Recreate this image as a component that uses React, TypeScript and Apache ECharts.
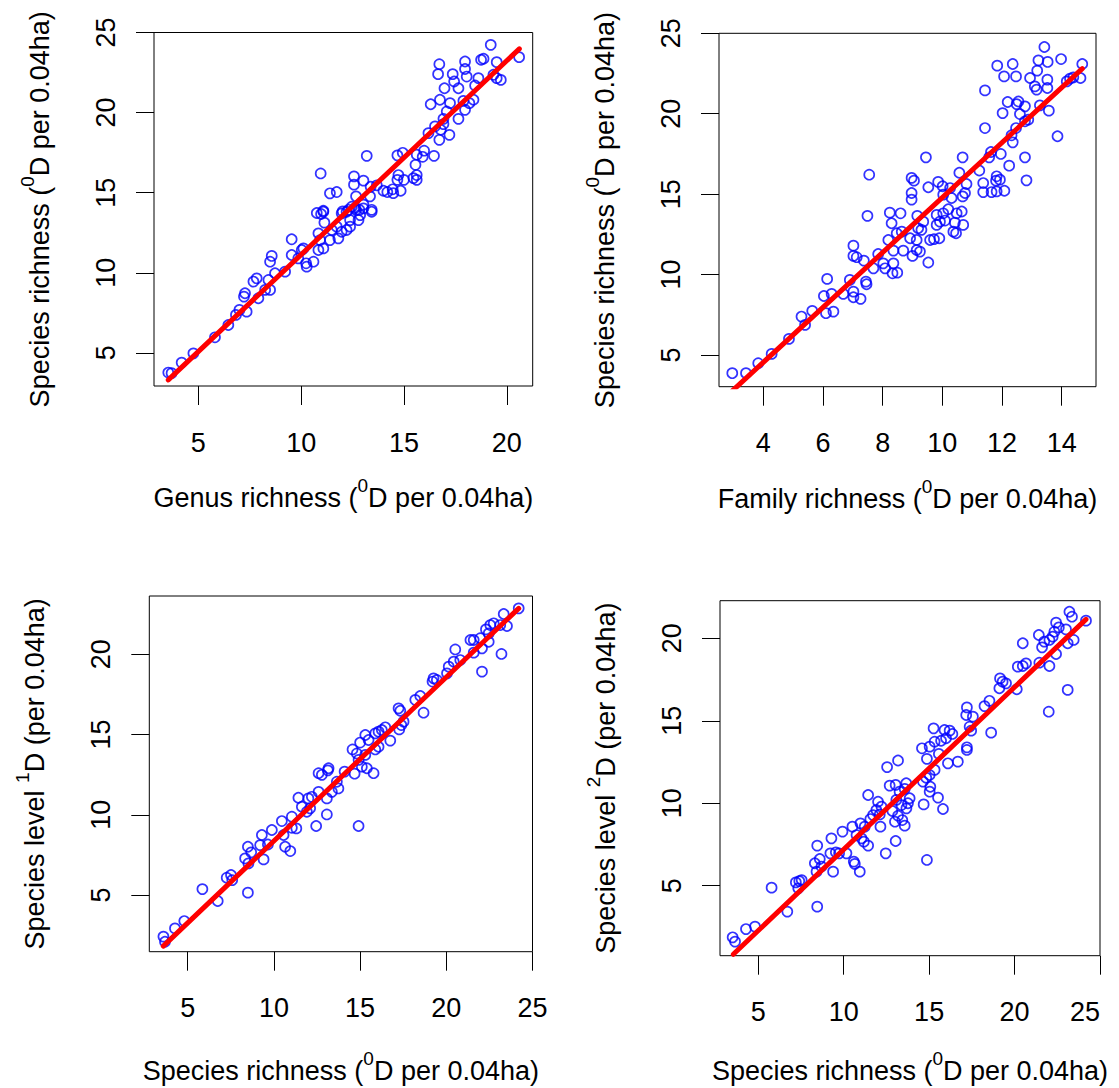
import React, { useEffect, useRef } from "react";
import * as echarts from "echarts";

const FONT = '"Liberation Sans", Arial, Helvetica, sans-serif';

// ---- Data ----
// Panel 1: x = genus richness, y = species richness
const genusVsSpecies: [number, number][] = [
  [19.22, 24.23], [20.6, 23.46], [16.72, 23.02], [16.66, 22.4], [17.97, 23.19], [17.97, 22.72], [18.05, 22.25],
  [18.75, 23.3], [18.87, 23.36], [19.51, 23.15], [17.37, 22.4], [17.44, 21.94], [17.65, 21.52], [16.97, 21.52],
  [18.62, 22.15], [19.35, 22.36], [19.51, 22.15], [19.71, 22.04], [18.46, 21.69], [16.75, 20.8], [16.3, 20.52],
  [17.24, 20.59], [17.89, 20.73], [18.38, 20.8], [18.18, 20.59], [17.97, 20.17], [17.65, 19.61], [16.92, 19.61],
  [17.08, 20.07], [16.19, 18.72], [16.51, 19.14], [16.79, 18.93], [16.92, 19.28], [17.21, 18.61], [16.72, 18.3],
  [13.19, 17.3], [14.68, 17.33], [14.94, 17.49], [15.62, 17.37], [15.98, 17.62], [16.46, 17.3], [15.91, 17.24],
  [10.95, 16.2], [12.57, 16.02], [13.03, 15.75], [12.57, 15.5], [13.38, 15.37], [11.4, 14.96], [11.73, 15.04],
  [12.67, 14.77], [13.35, 14.77], [13.68, 15.46], [14.0, 15.12], [14.19, 15.04], [14.45, 15.21], [14.68, 15.8],
  [14.73, 16.1], [15.0, 15.8], [15.46, 15.91], [15.56, 16.74], [15.62, 16.1], [15.62, 15.8], [14.48, 14.97],
  [14.84, 15.12], [12.62, 14.04], [12.83, 13.93], [13.03, 14.25], [13.43, 13.93], [11.08, 13.87], [10.76, 13.73],
  [12.02, 13.83], [12.3, 13.93],
  [10.97, 13.67], [11.08, 13.81], [11.13, 13.13], [11.97, 13.71], [12.21, 13.81], [12.46, 14.12], [12.67, 13.92],
  [12.87, 13.6], [13.03, 14.02], [13.43, 13.81], [12.38, 13.29], [12.79, 13.29], [11.73, 12.88], [11.97, 12.56],
  [12.21, 12.67], [12.38, 12.88], [11.49, 12.67], [11.4, 12.04], [11.81, 12.15], [10.84, 12.46], [10.92, 12.04],
  [11.08, 11.52], [10.84, 11.42], [9.54, 12.09], [9.54, 11.11], [10.03, 11.42], [10.11, 11.52], [9.86, 10.9],
  [10.24, 10.59], [10.27, 10.38], [10.6, 10.69], [8.57, 11.05], [8.49, 10.69], [9.22, 10.07], [8.73, 9.97],
  [7.68, 9.45], [7.84, 9.65], [8.41, 9.55], [8.49, 8.93], [7.27, 8.72], [7.22, 8.51], [7.92, 8.41], [8.25, 8.93],
  [7.0, 7.68], [7.35, 7.57], [6.83, 7.37], [6.46, 6.74], [5.81, 5.97], [4.76, 4.97], [4.19, 4.39], [3.54, 3.77],
  [3.7, 3.73],
];

// Panel 2: x = family richness, y = species richness
const familyVsSpecies: [number, number][] = [
  [13.42, 24.15], [13.98, 23.4], [14.69, 23.09], [11.84, 22.99], [12.36, 23.09], [13.22, 23.32], [13.53, 23.22],
  [12.07, 22.32], [12.47, 22.32], [12.94, 22.22], [13.18, 22.68], [13.52, 22.12], [13.1, 21.7], [13.16, 21.5],
  [13.52, 21.6], [14.17, 22.01], [14.28, 22.18], [14.39, 22.26], [14.63, 22.22], [11.43, 21.45], [12.19, 20.73],
  [12.02, 20.04], [12.49, 20.6], [12.55, 20.76], [12.77, 20.46], [12.6, 19.98], [12.77, 19.53], [12.88, 19.63],
  [13.27, 20.52], [13.57, 20.19], [11.43, 19.11], [12.32, 18.66], [12.47, 19.11], [12.36, 18.22], [13.86, 18.6],
  [9.45, 17.29], [10.68, 17.29], [11.63, 17.62], [11.57, 17.29], [11.96, 17.5], [12.77, 17.29], [12.24, 16.77],
  [7.55, 16.21], [8.97, 16.01], [9.05, 15.84], [9.53, 15.43], [9.86, 15.76], [10.57, 16.33], [11.24, 16.47],
  [11.82, 16.11], [11.93, 15.9], [11.8, 15.84], [12.82, 15.86], [11.37, 15.69], [11.37, 15.13], [11.65, 15.13],
  [11.82, 15.17], [12.08, 15.21], [8.97, 15.07], [8.97, 14.66], [10.01, 15.49], [10.26, 15.38], [10.03, 14.97],
  [10.31, 14.76], [10.76, 15.07], [10.68, 14.86], [10.81, 15.63],
  [7.49, 13.65], [8.24, 13.85], [8.6, 13.81], [8.3, 13.19], [9.16, 13.65], [9.36, 13.29], [9.81, 13.71],
  [10.03, 13.81], [10.2, 14.06], [10.48, 13.81], [10.65, 13.92], [9.92, 13.29], [10.09, 13.36], [10.42, 13.23],
  [10.7, 13.09], [9.19, 12.88], [9.3, 12.78], [9.81, 13.09], [10.37, 12.67], [10.46, 12.57], [8.47, 12.57],
  [8.64, 12.67], [8.92, 12.26], [9.14, 12.15], [9.59, 12.15], [9.72, 12.2], [9.9, 12.26], [8.19, 12.15],
  [8.69, 11.49], [9.0, 11.16], [9.14, 11.53], [9.25, 11.43], [8.36, 11.49], [9.53, 10.75], [7.02, 11.8],
  [7.02, 11.16], [7.13, 11.08], [7.37, 10.87], [7.85, 11.28], [7.69, 10.39], [8.02, 10.7], [8.08, 10.39],
  [8.36, 10.7], [8.33, 10.08], [8.49, 10.12], [6.14, 9.73], [6.9, 9.67], [7.44, 9.56], [7.46, 9.4], [6.03, 8.67],
  [6.29, 8.8], [6.68, 8.8], [7.02, 8.94], [7.02, 8.59], [7.26, 8.49], [6.1, 7.6], [6.35, 7.7], [5.64, 7.74],
  [5.28, 7.39], [5.4, 6.87], [4.86, 6.0], [4.28, 5.07], [3.83, 4.49], [3.42, 3.87], [2.96, 3.87],
];

// Panel 3: x = species richness, y = species level 1D
const speciesVs1D: [number, number][] = [
  [24.2, 22.86], [23.33, 22.51], [23.52, 21.76], [23.13, 21.82], [22.55, 21.82], [22.3, 21.55], [22.75, 21.93],
  [22.46, 21.3], [22.46, 20.78], [21.97, 21.0], [21.59, 20.89], [21.4, 20.89], [22.07, 20.37], [21.59, 20.1],
  [23.2, 20.02], [22.07, 18.92], [20.52, 20.3], [20.81, 19.64], [20.43, 19.54], [20.14, 19.23], [20.04, 18.81],
  [19.26, 18.5], [19.2, 18.3], [19.45, 18.4], [18.2, 17.16], [18.49, 17.4], [18.68, 16.36], [17.23, 16.63],
  [17.33, 16.48], [17.52, 15.8], [17.39, 15.59], [17.27, 15.32], [16.46, 15.45], [16.26, 15.28], [16.07, 15.18],
  [15.88, 15.07], [15.3, 14.97], [15.49, 14.66], [15.0, 14.5], [16.75, 14.62], [16.07, 14.24], [15.88, 14.07],
  [14.56, 14.07], [14.81, 13.82], [15.3, 13.73], [14.91, 13.42], [15.1, 13.0], [15.39, 12.9], [15.78, 12.59],
  [13.17, 12.9], [12.59, 12.59], [14.1, 12.69],
  [13.13, 12.77], [12.78, 12.49], [14.68, 12.56], [13.65, 12.06], [13.74, 11.64], [13.36, 11.43], [13.07, 11.02],
  [12.59, 11.43], [12.2, 11.12], [12.0, 11.02], [11.42, 11.06], [11.62, 10.5], [11.91, 10.19], [12.1, 10.4],
  [13.07, 10.02], [12.45, 9.3], [14.91, 9.3], [11.04, 9.88], [10.46, 9.61], [11.3, 9.15], [11.04, 9.19],
  [9.88, 9.05], [9.3, 8.74], [10.56, 8.74], [9.65, 8.15], [9.2, 8.11], [8.49, 8.01], [10.65, 8.01], [10.95, 7.74],
  [8.68, 7.66], [8.33, 7.28], [9.4, 7.22], [8.52, 6.97], [7.26, 6.08], [7.51, 6.25], [7.58, 5.93], [5.85, 5.37],
  [6.74, 4.63], [8.49, 5.15], [4.8, 3.38], [4.26, 2.92], [3.59, 2.41], [3.68, 2.09],
];

// Panel 4: x = species richness, y = species level 2D
const speciesVs2D: [number, number][] = [
  [23.21, 21.61], [23.36, 21.31], [24.18, 21.07], [22.43, 20.95], [22.59, 20.66], [22.33, 20.4], [23.01, 20.54],
  [22.23, 20.1], [23.46, 19.9], [23.11, 19.7], [22.04, 19.9], [21.74, 19.8], [21.42, 20.2], [21.61, 19.45],
  [22.43, 19.05], [22.04, 18.32], [20.48, 19.7], [20.19, 18.28], [20.48, 18.32], [20.67, 18.48], [21.45, 18.52],
  [19.15, 17.57], [19.3, 17.37], [19.5, 17.27], [19.11, 16.97], [20.13, 16.91], [23.11, 16.87], [22.0, 15.55],
  [18.53, 16.21], [18.24, 15.89], [17.21, 15.81], [17.17, 15.35], [17.56, 15.25], [17.37, 14.64], [17.46, 14.4],
  [18.63, 14.28], [15.26, 14.54], [15.9, 14.44], [16.2, 14.4], [16.36, 14.2], [15.99, 13.94], [15.7, 13.79],
  [15.32, 13.73], [15.03, 13.43], [14.58, 13.33], [17.21, 13.39], [17.21, 13.23], [15.57, 12.99], [14.87, 12.69],
  [13.18, 12.59], [12.54, 12.19], [16.68, 12.52], [16.1, 12.42],
  [15.32, 12.02], [15.03, 11.71], [14.83, 11.55], [14.64, 11.31], [15.07, 11.0], [15.03, 10.7], [15.52, 10.34],
  [15.81, 9.65], [14.68, 9.93], [13.66, 11.21], [12.69, 11.07], [13.04, 11.11], [13.27, 10.7], [13.57, 10.87],
  [13.86, 10.3], [13.76, 10.0], [13.67, 9.69], [13.38, 9.89], [13.08, 10.2], [12.85, 9.53], [13.18, 9.24],
  [13.43, 8.98], [13.57, 8.64], [13.0, 8.88], [11.43, 10.5], [12.01, 10.09], [12.21, 9.79], [11.91, 9.59],
  [12.11, 9.32], [11.72, 9.28], [11.56, 9.04], [12.15, 8.58], [11.23, 8.58], [10.98, 8.78], [10.51, 8.58],
  [9.93, 8.28], [9.28, 7.87], [10.75, 8.07], [11.18, 7.67], [11.43, 7.43], [11.04, 7.87], [13.04, 7.71],
  [8.45, 7.43], [9.22, 6.96], [9.54, 7.02], [9.73, 6.96], [10.16, 6.96], [8.6, 6.62], [8.31, 6.36], [8.7, 6.16],
  [8.41, 5.85], [9.38, 5.85], [10.59, 6.46], [10.65, 6.32], [10.94, 5.85], [12.46, 6.96], [14.87, 6.56],
  [7.2, 5.2], [7.4, 5.28], [7.54, 5.34], [7.34, 4.84], [5.78, 4.88], [6.7, 3.43], [8.45, 3.73], [4.28, 2.37],
  [4.81, 2.52], [3.5, 1.87], [3.64, 1.61],
];

// Fitted regression lines (end points)
const fitGenus: [number, number][] = [[3.54, 3.31], [20.61, 23.98]];
const fitFamily: [number, number][] = [[2.96, 2.77], [14.69, 22.8]];
const fit1D: [number, number][] = [[3.58, 1.82], [24.2, 22.86]];
const fit2D: [number, number][] = [[3.54, 0.84], [24.18, 21.15]];

// Tick labels
const ticks5to25 = [5, 10, 15, 20, 25];
const ticks5to20 = [5, 10, 15, 20];
const ticks4to14 = [4, 6, 8, 10, 12, 14];
const ticksGenusX = [5, 10, 15, 20];

// Axis titles (rich text, s = superscript)
const titleGenus = "{n|Genus richness (}{s|0}{n|D per 0.04ha)}";
const titleFamily = "{n|Family richness (}{s|0}{n|D per 0.04ha)}";
const titleSpecies = "{n|Species richness (}{s|0}{n|D per 0.04ha)}";
const titleLevel1 = "{n|Species level }{s|1}{n|D (per 0.04ha)}";
const titleLevel2 = "{n|Species level }{s|2}{n|D (per 0.04ha)}";

const LABEL_SIZE = 27;
const X_LABEL_MARGIN = 43;
const X_TICK_LEN = 19;

const RICH = {
  n: { fontSize: 27, fontFamily: FONT, color: "#000", lineHeight: 44 },
  s: { fontSize: 19, fontFamily: FONT, color: "#000", lineHeight: 19, verticalAlign: "top" },
};

type Panel = {
  box: { left: number; top: number; width: number; height: number };
  xr: [number, number];
  yr: [number, number];
  xt: number[];
  yt: number[];
  alignMax: string | null;
  xName: string;
  yName: string;
  xGap: number;
  yGap: number;
  pts: [number, number][];
  fit: [number, number][];
};

const panels: Panel[] = [
  {
    box: { left: 154, top: 32.5, width: 378.7, height: 353.5 },
    xr: [2.845, 21.26], yr: [2.93, 25.0], xt: ticksGenusX, yt: ticks5to25, alignMax: null,
    xName: titleGenus, yName: titleSpecies, xGap: 90, yGap: 92,
    pts: genusVsSpecies, fit: fitGenus,
  },
  {
    box: { left: 719, top: 33.3, width: 377, height: 353.4 },
    xr: [2.515, 15.15], yr: [3.03, 25.0], xt: ticks4to14, yt: ticks5to25, alignMax: null,
    xName: titleFamily, yName: titleSpecies, xGap: 90, yGap: 92,
    pts: familyVsSpecies, fit: fitFamily,
  },
  {
    box: { left: 149.3, top: 596, width: 383.2, height: 355.7 },
    xr: [2.77, 25.0], yr: [1.47, 23.63], xt: ticks5to25, yt: ticks5to20, alignMax: null,
    xName: titleSpecies, yName: titleLevel1, xGap: 97, yGap: 92,
    pts: speciesVs1D, fit: fit1D,
  },
  {
    box: { left: 720, top: 600.7, width: 380, height: 355 },
    xr: [2.76, 25.0], yr: [0.755, 22.28], xt: ticks5to25, yt: ticks5to20, alignMax: "right",
    xName: titleSpecies, yName: titleLevel2, xGap: 93, yGap: 92,
    pts: speciesVs2D, fit: fit2D,
  },
];

function buildOption() {
  const labelStyle = { color: "#000", fontSize: LABEL_SIZE, fontFamily: FONT };
  return {
    animation: false,
    backgroundColor: "#fff",
    textStyle: { fontFamily: FONT },
    grid: panels.map((p) => ({
      left: p.box.left,
      top: p.box.top,
      width: p.box.width,
      height: p.box.height,
      show: true,
      borderColor: "#000",
      borderWidth: 1,
      backgroundColor: "transparent",
      containLabel: false,
      outerBoundsMode: "none",
    })),
    xAxis: panels.map((p, i) => {
      const axisLabel: any = {
        show: true, customValues: p.xt, margin: X_LABEL_MARGIN, showMinLabel: true, showMaxLabel: true,
        hideOverlap: false, ...labelStyle,
      };
      if (p.alignMax) axisLabel.alignMaxLabel = p.alignMax;
      return {
        gridIndex: i,
        type: "value",
        min: p.xr[0],
        max: p.xr[1],
        axisLine: { show: false },
        splitLine: { show: false },
        axisTick: { show: true, inside: false, length: X_TICK_LEN, lineStyle: { color: "#000", width: 1 }, customValues: p.xt },
        axisLabel,
        name: p.xName,
        nameLocation: "middle",
        nameGap: p.xGap,
        nameTextStyle: { ...labelStyle, rich: RICH },
      };
    }),
    yAxis: panels.map((p, i) => ({
      gridIndex: i,
      type: "value",
      min: p.yr[0],
      max: p.yr[1],
      axisLine: { show: false },
      splitLine: { show: false },
      axisTick: { show: true, inside: false, length: 18, lineStyle: { color: "#000", width: 1 }, customValues: p.yt },
      axisLabel: {
        show: true, customValues: p.yt, rotate: 90, margin: 35, showMinLabel: true, showMaxLabel: true,
        hideOverlap: false, ...labelStyle,
      },
      name: p.yName,
      nameLocation: "middle",
      nameRotate: 90,
      nameGap: p.yGap,
      nameTextStyle: { ...labelStyle, rich: RICH },
    })),
    series: [
      ...panels.map((p, i) => ({
        type: "scatter",
        xAxisIndex: i,
        yAxisIndex: i,
        data: p.pts,
        symbol: "circle",
        symbolSize: 10,
        silent: true,
        itemStyle: { color: "rgba(0,0,0,0)", borderColor: "#0000FF", borderWidth: 1.7 },
        z: 2,
      })),
      ...panels.map((p, i) => ({
        type: "line",
        xAxisIndex: i,
        yAxisIndex: i,
        data: p.fit,
        symbol: "none",
        showSymbol: false,
        silent: true,
        clip: true,
        lineStyle: { color: "#FF0000", width: 5, cap: "round" },
        z: 3,
      })),
    ],
  };
}

export default function App() {
  const ref = useRef<HTMLDivElement>(null);
  useEffect(() => {
    if (!ref.current) return;
    const chart = echarts.init(ref.current, undefined, { renderer: "svg" });
    chart.setOption(buildOption() as any);
    return () => chart.dispose();
  }, []);
  return (
    <div
      ref={ref}
      style={{ position: "absolute", left: 0, top: 0, width: 1119, height: 1088, background: "#fff" }}
    />
  );
}
